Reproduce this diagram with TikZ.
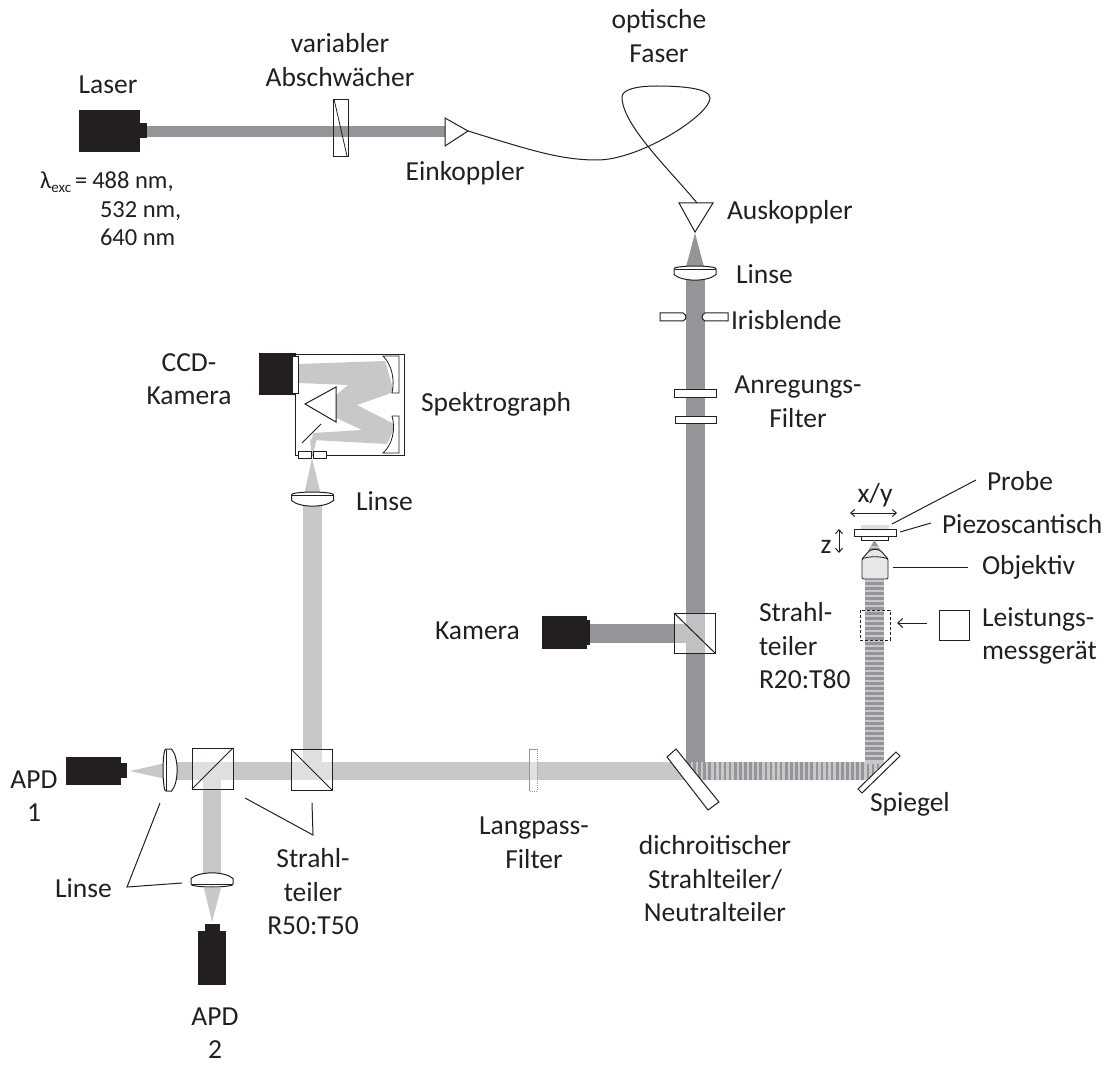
\documentclass[tikz,border=0pt]{standalone}
\usepackage{fontspec}
\setmainfont{Carlito}
\usetikzlibrary{arrows.meta}
\definecolor{ink}{HTML}{231F20}
\definecolor{beamdark}{HTML}{939598}
\definecolor{beamlight}{HTML}{C7C8CA}
\definecolor{objgray}{HTML}{E6E7E8}
\tikzset{
  x=1pt,y=-1pt,
  lbl/.style={text=ink,inner sep=0pt,outer sep=0pt,font=\fontsize{27.5}{33.5}\selectfont},
  lblc/.style={lbl,align=center,anchor=center},
  lbll/.style={lbl,align=left,anchor=west},
  part/.style={draw=ink,line width=1pt,fill=white,line join=miter},
  wire/.style={draw=ink,line width=1pt},
  thin part/.style={draw=ink,line width=.8pt},
  body/.style={fill=ink,draw=none},
  cubeveil/.style={fill=white,fill opacity=.42,draw=none},
  lens/.pic={
    \path[part] (-19,-5.5) .. controls (-10,-7.5) and (10,-7.5) .. (19,-5.5) .. controls (20.5,-5) and (21,-4.5) .. (21,-3.5) -- (21,1.5)
      .. controls (13,9) and (-13,9) .. (-21,1.5) -- (-21,-3.5) .. controls (-21,-4.5) and (-20.5,-5) .. (-19,-5.5) -- cycle;
    \draw[thin part] (-20.5,-4) -- (20.5,-4);
  },
}
\begin{document}
\begin{tikzpicture}
\useasboundingbox (0,0) rectangle (1111,1067);

% ---------- beams
\fill[beamdark] (147,126) rectangle (445,137);
\fill[beamdark] (695,233) -- (704,267) -- (686,267) -- cycle;
\fill[beamdark] (686,267) rectangle (705,765);
\fill[beamdark] (590,624) rectangle (690,643);
\fill[beamlight] (172,762) rectangle (690,780);
\fill[beamlight] (130,771) -- (170,762) -- (170,780) -- cycle;
\fill[beamlight] (203,770) rectangle (221,880);
\fill[beamlight] (204,888) -- (221,888) -- (212,922) -- cycle;
\fill[beamlight] (303,500) rectangle (322,770);
\fill[beamlight] (312,458) -- (321,495) -- (304,495) -- cycle;
% striped beams
\fill[beamlight] (686,762) -- (884,762) -- (866,780) -- (700,780) -- cycle;
\begin{scope}
  \clip (686,762) -- (884,762) -- (866,780) -- (700,780) -- cycle;
  \foreach \xx in {688,693.1,...,885} \fill[beamdark] (\xx,762) rectangle (\xx+2.6,780);
\end{scope}
\fill[beamlight] (865,579) rectangle (884,764);
\foreach \yy in {582,587,...,760} \fill[beamdark] (865,\yy) rectangle (884,\yy+2.5);

% ---------- laser
\fill[ink] (79,110) rectangle (140,152);
\fill[ink] (140,123) rectangle (147,138);
\draw[thin part] (333,99) rectangle (348,156);
\draw[thin part] (334,99) -- (347,156);
\path[part] (445,118) -- (468,131) -- (445,146) -- cycle;

% ---------- fibre
\path[part] (679,203) -- (713,203) -- (695,232) -- cycle;
\coordinate (fibreIn) at (468,131);
\coordinate (fibreOut) at (697,203);
\draw[wire] (fibreIn) .. controls (530,150) and (560,160) .. (597,160)
  .. controls (640,160) and (710,115) .. (710,98)
  .. controls (710,88) and (680,86) .. (657,86)
  .. controls (635,86) and (622,90) .. (622,97)
  .. controls (622,125) and (670,170) .. (fibreOut);

% ---------- excitation path parts
\pic at (695,273) {lens};
\path[part] (660,313) -- (683,313) .. controls (687,315) and (687,319) .. (683,321) -- (660,321) -- cycle;
\path[part] (728,313) -- (705,313) .. controls (701,315) and (701,319) .. (705,321) -- (728,321) -- cycle;
\path[part] (674,389) rectangle (716,397);
\path[part] (675,416) rectangle (716,423);

% ---------- camera and R20:T80
\fill[ink] (542,616) rectangle (587,649);
\fill[ink] (587,620) rectangle (590,645);
\fill[cubeveil] (674,613) rectangle (715,653);
\draw[wire] (674,613) rectangle (715,653);
\draw[wire] (674,613) -- (715,653);

% ---------- dichroic and mirror
\path[part] (676,749) -- (667,757) -- (708,810) -- (719,802) -- cycle;
\path[part] (896,752) -- (900,756) -- (862,793) -- (858,789) -- cycle;

% ---------- long-pass filter
\fill[white,fill opacity=.45] (529,749) rectangle (537,791);
\draw[beamdark,line width=.9pt] (529,791) -- (529,749) -- (537,749);
\draw[beamdark,line width=1pt,densely dotted] (537,749) -- (537,791) -- (529,791);

% ---------- detection arm
\fill[cubeveil] (192,748) rectangle (233,789);
\draw[wire] (192,748) rectangle (233,789);
\draw[wire] (192,789) -- (233,748);
\fill[cubeveil] (291,749) rectangle (332,790);
\draw[wire] (291,749) rectangle (332,790);
\draw[wire] (291,749) -- (332,790);
\pic[rotate=90] at (170,770) {lens};
\pic[rotate=180] at (212,880) {lens};
\fill[ink] (66,757) rectangle (121,785);
\fill[ink] (121,763) rectangle (127,778);
\fill[ink] (205,924) rectangle (220,931);
\fill[ink] (198,931) rectangle (226,985);

% ---------- spectrograph
\draw[thin part,fill=white] (295,354) rectangle (404,455);
\fill[beamlight] (298,364) -- (385,361) -- (394,392) -- (357,405) -- (396,425) -- (387,444)
  -- (312,440) -- (313,433) -- (362,430) -- (330,415) -- (330,400) -- (348,385) -- (298,383) -- cycle;
\fill[beamlight] (312,458) -- (310,440) -- (318,434) -- cycle;
\path[part,line width=.8pt] (383,356) -- (399,356) -- (399,393) -- (392,393)
  .. controls (395,380) and (392,365) .. (383,356) -- cycle;
\path[part,line width=.8pt] (392,416) -- (399,416) -- (399,453) -- (383,453)
  .. controls (392,445) and (396,430) .. (392,416) -- cycle;
\path[part] (336,387) -- (336,422) -- (305,404) -- cycle;
\draw[wire] (321,424) -- (302,443);
\fill[ink] (259,353) rectangle (296,395);
\path[part] (292,356) rectangle (298,393);
\path[part,line width=.8pt] (298,451) rectangle (311,458);
\path[part,line width=.8pt] (313,451) rectangle (326,458);
\pic at (312.5,499) {lens};

% ---------- sample, stage, objective
\fill[objgray!70!beamlight] (861,525) rectangle (889,529);
\path[part] (854,529) rectangle (896,536);
\path[part] (861,536) rectangle (888,540);
\fill[beamdark] (874.5,540) -- (881,551) -- (868,551) -- cycle;
\fill[beamlight] (870,546) rectangle (879,547.5);
\path[draw=ink,line width=.9pt,fill=objgray,rounded corners=1.2pt] (862,559) -- (869,551) .. controls (873,549) and (877,549) .. (881,551) -- (888,559) -- (888,579) -- (862,579) -- cycle;
\draw[thin part] (862,559) .. controls (868,556) and (882,556) .. (888,559);
\draw[line width=1pt,dash pattern=on 3pt off 2pt,draw=ink] (860,610) rectangle (890,640);
\path[part] (939,610) rectangle (969,640);
\coordinate (meterArrowA) at (927,623);
\coordinate (meterArrowB) at (897,623);
\draw[wire,-{Straight Barb[length=5pt,width=9pt]}] (meterArrowA) -- (meterArrowB);
\coordinate (xyA) at (850,513);
\coordinate (xyB) at (897,513);
\draw[wire,{Straight Barb[length=4pt,width=7pt]}-{Straight Barb[length=4pt,width=7pt]}] (xyA) -- (xyB);
\coordinate (zA) at (839,529);
\coordinate (zB) at (839,553);
\draw[wire,{Straight Barb[length=4pt,width=7pt]}-{Straight Barb[length=4pt,width=7pt]}] (zA) -- (zB);

% ---------- leaders
\coordinate (probeA) at (892,524);  \coordinate (probeB) at (976,480);
\draw[wire] (probeA) -- (probeB);
\coordinate (piezoA) at (900,532);  \coordinate (piezoB) at (931,523);
\draw[wire] (piezoA) -- (piezoB);
\coordinate (objA) at (893,567);    \coordinate (objB) at (968,567);
\draw[wire] (objA) -- (objB);
\coordinate (lensA) at (160,803); \coordinate (lensM) at (127,887); \coordinate (lensB) at (182,883);
\draw[wire] (lensA) -- (lensM) -- (lensB);
\coordinate (bsA) at (245,798); \coordinate (bsM) at (313,835); \coordinate (bsB) at (312,803);
\draw[wire] (bsA) -- (bsM) -- (bsB);

% ---------- labels
\node[lblc] (tLaser) at (108,85) {Laser};
\node[lblc] (tVar) at (340,60) {variabler\\Abschwächer};
\node[lbl,anchor=west,align=left,font=\fontsize{24.5}{28.5}\selectfont] (tExc) at (40,209)
  {λ\raisebox{-.35ex}{\fontsize{15}{15}\selectfont exc}\hspace{4pt}=\hspace{5pt}488 nm,\\\hspace*{60pt}532 nm,\\\hspace*{60pt}640 nm};
\node[lblc] (tEin) at (465,173) {Einkoppler};
\node[lblc] (tFaser) at (659,36) {optische\\Faser};
\node[lbll] (tAus) at (727,212) {Auskoppler};
\node[lbll] (tLinse1) at (736,274) {Linse};
\node[lbll] (tIris) at (731,320) {Irisblende};
\node[lblc] (tAnr) at (798,402) {Anregungs-\\Filter};
\node[lbll] (tSpek) at (421,404) {Spektrograph};
\node[lblc] (tCCD) at (189,379) {CCD-\\Kamera};
\node[lbll] (tLinse2) at (356,501) {Linse};
\node[lbll] (tKam) at (435,631) {Kamera};
\node[lbll] (tR20) at (759,646) {Strahl-\\teiler\\R20:T80};
\node[lbll] (tProbe) at (987,481) {Probe};
\node[lbll] (tPiezo) at (942,524) {Piezoscantisch};
\node[lbll] (tObj) at (982,567) {Objektiv};
\node[lbll] (tMess) at (982,636) {Leistungs-\\messgerät};
\node[lblc] (tXY) at (875,495) {x/y};
\node[lblc] (tZ) at (826,547) {z};
\node[lbll] (tSpiegel) at (870,804) {Spiegel};
\node[lblc] (tApd1) at (34,796) {APD\\1};
\node[lblc] (tApd2) at (215,1033) {APD\\2};
\node[lbll] (tLinse3) at (55,888) {Linse};
\node[lblc] (tR50) at (313,892) {Strahl-\\teiler\\R50:T50};
\node[lblc] (tLang) at (534,843) {Langpass-\\Filter};
\node[lblc] (tDich) at (715,879) {dichroitischer\\Strahlteiler/\\Neutralteiler};
\end{tikzpicture}
\end{document}
